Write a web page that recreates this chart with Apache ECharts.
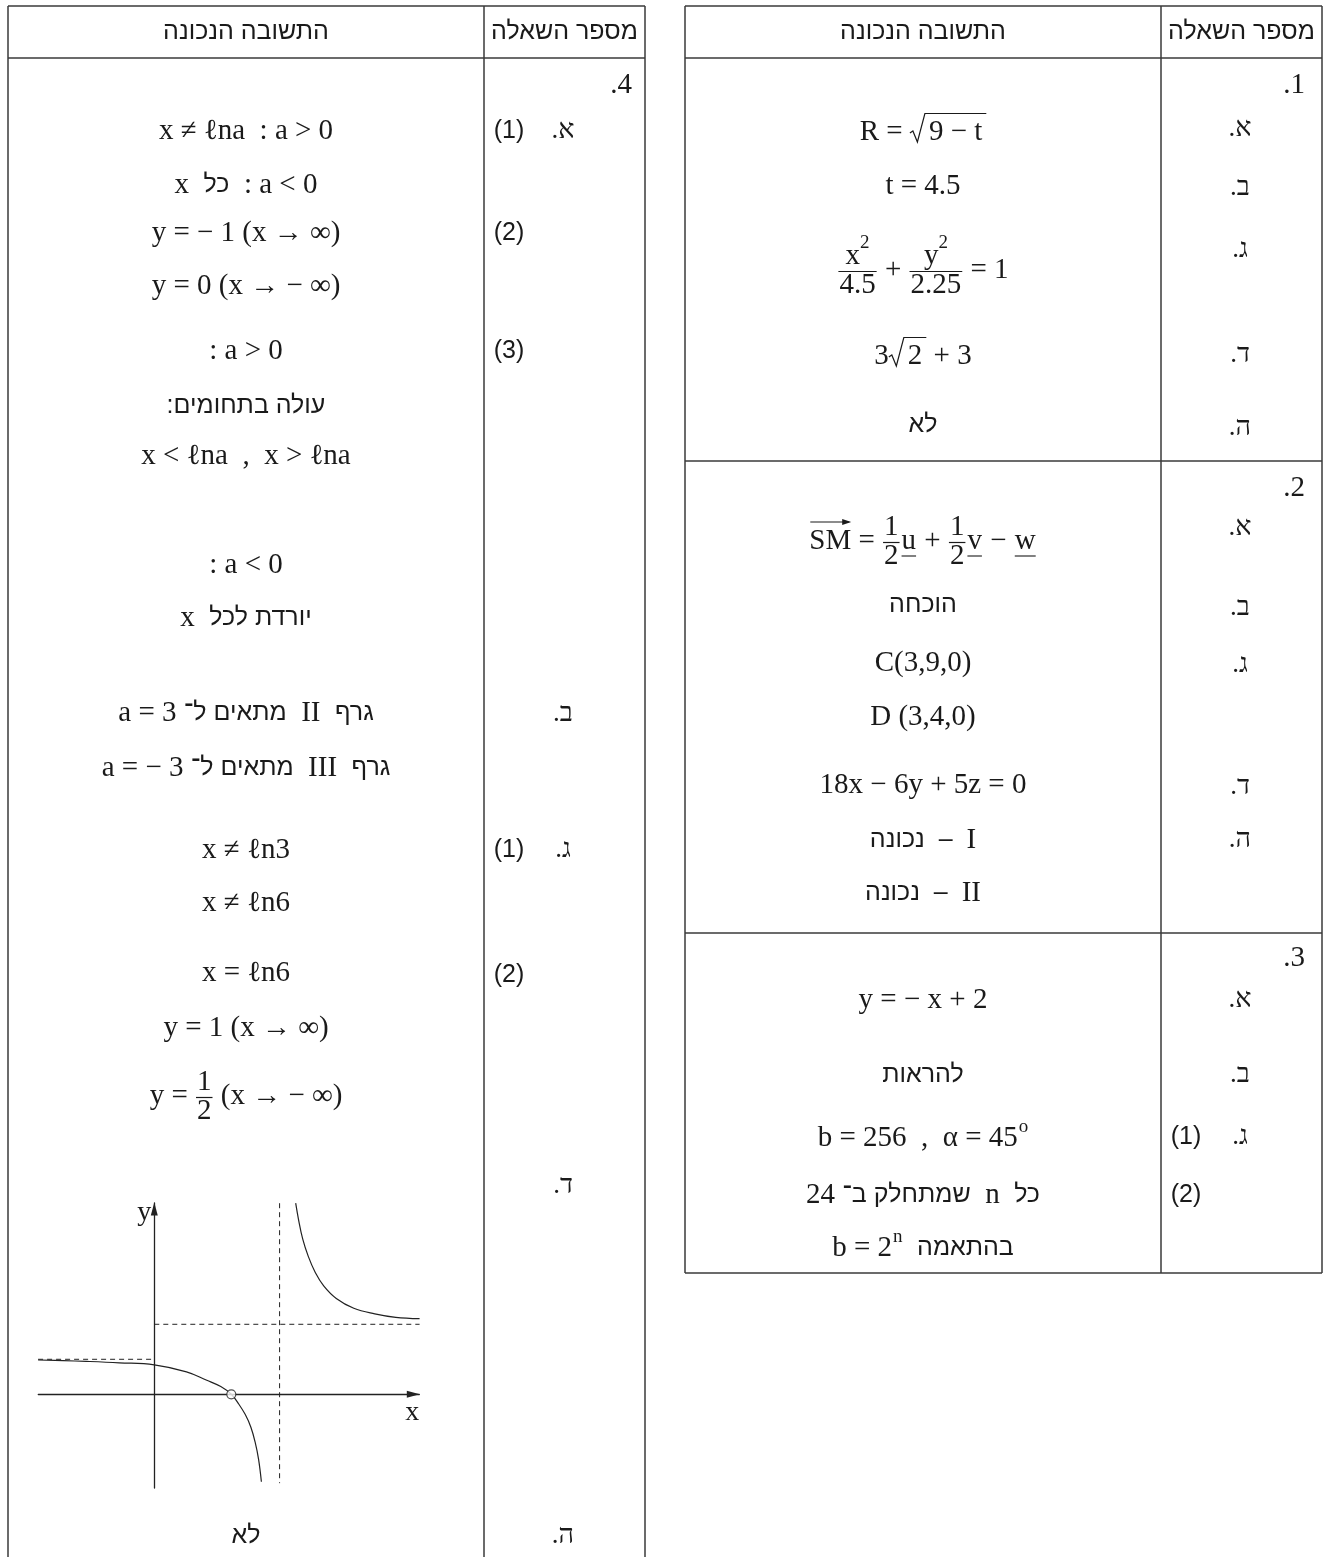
<!DOCTYPE html>
<html>
<head>
<meta charset="utf-8">
<script src="https://cdn.jsdelivr.net/npm/echarts@6/dist/echarts.min.js"></script>
<style>
html, body { margin: 0; padding: 0; background: #fff; }
#main { width: 1324px; height: 1557px; }
</style>
</head>
<body>
<div id="main"></div>
<script>
// graph of question 4 (d) (x, y in graph units)
var leftBranch = [[-1.66, 0.49], [-1.3, 0.48], [-0.97, 0.47], [-0.5, 0.45], [0, 0.42], [0.46, 0.32],
    [0.75, 0.2], [0.95, 0.11], [1.1, 0], [1.2, -0.13], [1.3, -0.29], [1.38, -0.47], [1.44, -0.68],
    [1.49, -0.93], [1.53, -1.25]];
var rightBranch = [[2.02, 2.73], [2.06, 2.5], [2.12, 2.22], [2.2, 1.97], [2.3, 1.74], [2.42, 1.55],
    [2.6, 1.37], [2.85, 1.23], [3.15, 1.15], [3.45, 1.1], [3.79, 1.08]];
var asymTop = [[0, 1], [3.79, 1]];
var asymLeft = [[-1.66, 0.5], [0, 0.5]];
var asymVert = [[1.79, 2.73], [1.79, -1.27]];
var holePoint = [[1.1, 0]];

// table texts
var headers = ['התשובה הנכונה', 'מספר השאלה'];

var q4Answers = [
    [{m: 'x ≠ ℓna  : a > 0'}],
    [{m: 'x  '}, {h: 'כל'}, {m: '  : a < 0'}],
    [{m: 'y = − 1 (x → ∞)'}],
    [{m: 'y = 0 (x → − ∞)'}],
    [{m: ': a > 0'}],
    [{h: ':'}, {h: 'עולה בתחומים'}],
    [{m: 'x < ℓna  ,  x > ℓna'}],
    [{m: ': a < 0'}],
    [{m: 'x  '}, {h: 'יורדת לכל'}],
    [{m: 'a = 3 '}, {h: 'מתאים ל־'}, {m: '  II  '}, {h: 'גרף'}],
    [{m: 'a = − 3 '}, {h: 'מתאים ל־'}, {m: '  III  '}, {h: 'גרף'}],
    [{m: 'x ≠ ℓn3'}],
    [{m: 'x ≠ ℓn6'}],
    [{m: 'x = ℓn6'}],
    [{m: 'y = 1 (x → ∞)'}],
    [{m: 'y = '}, {frac: ['1', '2']}, {m: ' (x → − ∞)'}],
    [{h: 'לא'}]
];

var q123Answers = [
    [{m: 'R = '}, {root: '9 − t'}],
    [{m: 't = 4.5'}],
    [{frac: ['x', '4.5'], sup: '2'}, {m: ' + '}, {frac: ['y', '2.25'], sup: '2'}, {m: ' = 1'}],
    [{m: '3'}, {root: '2'}, {m: ' + 3'}],
    [{h: 'לא'}],
    [{vec: 'SM'}, {m: ' = '}, {frac: ['1', '2']}, {ul: 'u'}, {m: ' + '}, {frac: ['1', '2']}, {ul: 'v'}, {m: ' − '}, {ul: 'w'}],
    [{h: 'הוכחה'}],
    [{m: 'C(3,9,0)'}],
    [{m: 'D (3,4,0)'}],
    [{m: '18x − 6y + 5z = 0'}],
    [{h: 'נכונה'}, {h: '  –  '}, {m: 'I'}],
    [{h: 'נכונה'}, {h: '  –  '}, {m: 'II'}],
    [{m: 'y = − x + 2'}],
    [{h: 'להראות'}],
    [{m: 'b = 256  ,  α = 45'}, {sup: 'o'}],
    [{m: '24 '}, {h: 'שמתחלק ב־'}, {m: '  n  '}, {h: 'כל'}],
    [{m: 'b = 2'}, {sup: 'n'}, {m: '  '}, {h: 'בהתאמה'}]
];

var q4Sections = ['.4'];
var q4Letters = ['.א', '.ב', '.ג', '.ד', '.ה'];
var q4Subs = ['(1)', '(2)', '(3)', '(1)', '(2)'];
var q123Sections = ['.1', '.2', '.3'];
var q123Letters = ['.א', '.ב', '.ג', '.ד', '.ה', '.א', '.ב', '.ג', '.ד', '.ה', '.א', '.ב', '.ג'];
var q123Subs = ['(1)', '(2)'];

// ---- layout ----
var MF = '29px "Liberation Serif"';
var SF = '19px "Liberation Serif"';
var HF = '25px "Liberation Sans", "DejaVu Sans"';
var LF = '27px "Liberation Serif", "DejaVu Serif"';
var PF = '25px "Liberation Sans", "DejaVu Sans"';
var INK = '#1a1a1a';

var mctx = document.createElement('canvas').getContext('2d');
function tw(s, f) {
    mctx.font = f;
    return mctx.measureText(s).width;
}

var els = [];
function txt(s, x, y, f, align) {
    els.push({type: 'text', x: x, y: y, silent: true,
        style: {text: s, font: f, fill: INK, textAlign: align || 'left', textVerticalAlign: 'middle'}});
}
function seg(x1, y1, x2, y2, w, color) {
    els.push({type: 'line', silent: true, shape: {x1: x1, y1: y1, x2: x2, y2: y2},
        style: {stroke: color || INK, lineWidth: w || 1.2}});
}

var RAD = 15; // width of the drawn radical sign

function pieceWidth(p) {
    if (p.m != null) return tw(p.m, MF);
    if (p.h != null) return tw(p.h, HF);
    if (p.frac) return Math.max(tw(p.frac[0], MF) + (p.sup ? tw(p.sup, SF) : 0), tw(p.frac[1], MF)) + 4;
    if (p.sup != null) return tw(p.sup, SF) + 1;
    if (p.root) return RAD + 4 + tw(p.root, MF) + 4;
    if (p.vec) return tw(p.vec, MF);
    if (p.ul) return tw(p.ul, MF) + 2;
    return 0;
}

function layoutRow(pieces, cx, cy) {
    var ws = pieces.map(pieceWidth);
    var total = ws.reduce(function (a, b) { return a + b; }, 0);
    var x = cx - total / 2;
    pieces.forEach(function (p, i) {
        var w = ws[i];
        if (p.m != null) {
            txt(p.m, x, cy, MF);
        } else if (p.h != null) {
            txt(p.h, x, cy, HF);
        } else if (p.frac) {
            var nw = tw(p.frac[0], MF) + (p.sup ? tw(p.sup, SF) : 0);
            var nx = x + (w - nw) / 2;
            txt(p.frac[0], nx, cy - 14, MF);
            if (p.sup) txt(p.sup, nx + tw(p.frac[0], MF), cy - 27, SF);
            txt(p.frac[1], x + w / 2, cy + 15, MF, 'center');
            seg(x + 1, cy + 1.5, x + w - 1, cy + 1.5, 1.2);
        } else if (p.sup != null) {
            txt(p.sup, x + 1, cy - 11, SF);
        } else if (p.root) {
            els.push({type: 'polyline', silent: true,
                shape: {points: [[x, cy + 1], [x + 3, cy - 1], [x + 7.5, cy + 10], [x + RAD, cy - 18.5], [x + w, cy - 18.5]]},
                style: {stroke: INK, lineWidth: 1.2, fill: null}});
            txt(p.root, x + RAD + 4, cy, MF);
        } else if (p.vec) {
            txt(p.vec, x, cy, MF);
            seg(x + 1, cy - 19, x + w - 2, cy - 19, 1.1);
            els.push({type: 'polygon', silent: true,
                shape: {points: [[x + w, cy - 19], [x + w - 9, cy - 22], [x + w - 9, cy - 16]]},
                style: {fill: INK}});
        } else if (p.ul) {
            txt(p.ul, x + 1, cy, MF);
            seg(x + 1, cy + 15, x + w - 1, cy + 15, 1.1);
        }
        x += w;
    });
}

// left table (question 4)
var LT = {l: 8, d: 484, r: 645, top: 6, head: 58, bottom: 1557};
// right table (questions 1-3)
var RT = {l: 685, d: 1161, r: 1322, top: 6, head: 58, bottom: 1273, secs: [461, 933]};
var LINE = '#3a3a3a';

[LT, RT].forEach(function (t) {
    seg(t.l, t.top, t.r, t.top, 1.5, LINE);
    seg(t.l, t.head, t.r, t.head, 1.5, LINE);
    seg(t.l, t.top, t.l, t.bottom, 1.5, LINE);
    seg(t.d, t.top, t.d, t.bottom, 1.5, LINE);
    seg(t.r, t.top, t.r, t.bottom, 1.5, LINE);
    txt(headers[0], (t.l + t.d) / 2, 32, HF, 'center');
    txt(headers[1], (t.d + t.r) / 2, 32, HF, 'center');
});
seg(RT.l, RT.bottom, RT.r, RT.bottom, 1.5, LINE);
RT.secs.forEach(function (y) { seg(RT.l, y, RT.r, y, 1.5, LINE); });

var q4Y = [131, 185, 233, 286, 351, 406, 456, 565, 618, 713, 768, 850, 903, 973, 1028, 1096, 1536];
q4Answers.forEach(function (row, i) { layoutRow(row, 246, q4Y[i]); });
var q123Y = [132, 186, 270, 356, 425, 541, 605, 663, 717, 785, 840, 893, 1000, 1075, 1138, 1195, 1248];
q123Answers.forEach(function (row, i) { layoutRow(row, 923, q123Y[i]); });

txt(q4Sections[0], 632, 85, MF, 'right');
[131, 714, 850, 1186, 1536].forEach(function (y, i) { txt(q4Letters[i], 563, y, LF, 'center'); });
[131, 233, 351, 850, 975].forEach(function (y, i) { txt(q4Subs[i], 509, y, PF, 'center'); });

[85, 488, 958].forEach(function (y, i) { txt(q123Sections[i], 1305, y, MF, 'right'); });
[129, 188, 250, 355, 428, 528, 608, 665, 787, 840, 1000, 1075, 1137].forEach(function (y, i) {
    txt(q123Letters[i], 1240, y, LF, 'center');
});
[1137, 1195].forEach(function (y, i) { txt(q123Subs[i], 1186, y, PF, 'center'); });

// ---- chart ----
var chart = echarts.init(document.getElementById('main'));
var AX = '#222';
var dashStyle = {color: AX, width: 1, type: [5, 4]};

var option = {
    animation: false,
    backgroundColor: '#fff',
    grid: {left: 38.3, top: 1203, width: 381, height: 285},
    xAxis: {
        type: 'value', min: -1.657, max: 3.786,
        axisLine: {onZero: true, symbol: ['none', 'triangle'], symbolSize: [7, 13], symbolOffset: [0, -6],
            lineStyle: {color: AX, width: 1.3}},
        axisTick: {show: false}, axisLabel: {show: false}, splitLine: {show: false},
        name: 'x', nameLocation: 'end', nameGap: -7,
        nameTextStyle: {fontFamily: 'Liberation Serif', fontSize: 28, color: INK,
            align: 'center', verticalAlign: 'top', padding: [4, 0, 0, 0]}
    },
    yAxis: {
        type: 'value', min: -1.339, max: 2.733,
        axisLine: {onZero: true, symbol: ['none', 'triangle'], symbolSize: [7, 13], symbolOffset: [0, -6],
            lineStyle: {color: AX, width: 1.3}},
        axisTick: {show: false}, axisLabel: {show: false}, splitLine: {show: false},
        name: 'y', nameLocation: 'end', nameGap: -10,
        nameTextStyle: {fontFamily: 'Liberation Serif', fontSize: 28, color: INK,
            align: 'right', verticalAlign: 'middle', padding: [0, 3, 0, 0]}
    },
    series: [
        {type: 'line', data: asymTop, showSymbol: false, lineStyle: dashStyle, silent: true},
        {type: 'line', data: asymLeft, showSymbol: false, lineStyle: dashStyle, silent: true},
        {type: 'line', data: asymVert, showSymbol: false, lineStyle: dashStyle, silent: true},
        {type: 'line', data: leftBranch, showSymbol: false, smooth: 0.4, lineStyle: {color: AX, width: 1.2}, silent: true},
        {type: 'line', data: rightBranch, showSymbol: false, smooth: 0.4, lineStyle: {color: AX, width: 1.2}, silent: true},
        {type: 'scatter', data: holePoint, symbol: 'circle', symbolSize: 9, z: 5, silent: true,
            itemStyle: {color: '#fff', borderColor: AX, borderWidth: 1.2}}
    ],
    graphic: {elements: els}
};

chart.setOption(option);
</script>
</body>
</html>
